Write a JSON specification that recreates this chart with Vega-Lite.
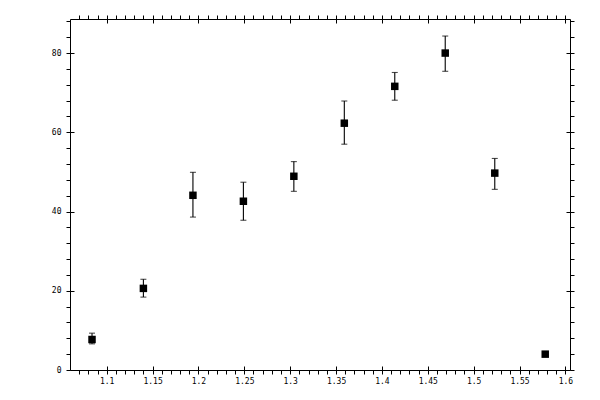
{
  "$schema": "https://vega.github.io/schema/vega-lite/v6.json",
  "width": 500,
  "height": 351,
  "autosize": "none",
  "padding": {"left": 70, "top": 19, "right": 30, "bottom": 30},
  "background": "white",
  "data": {
    "values": [
      {"x": 1.084, "y": 7.7, "lo": 6.6, "hi": 9.3},
      {"x": 1.140, "y": 20.6, "lo": 18.4, "hi": 22.9},
      {"x": 1.194, "y": 44.1, "lo": 38.6, "hi": 49.9},
      {"x": 1.249, "y": 42.6, "lo": 37.8, "hi": 47.4},
      {"x": 1.304, "y": 48.9, "lo": 45.1, "hi": 52.6},
      {"x": 1.359, "y": 62.3, "lo": 57.0, "hi": 67.9},
      {"x": 1.414, "y": 71.6, "lo": 68.1, "hi": 75.1},
      {"x": 1.469, "y": 80.0, "lo": 75.4, "hi": 84.3},
      {"x": 1.523, "y": 49.7, "lo": 45.6, "hi": 53.4},
      {"x": 1.578, "y": 4.0, "lo": 3.6, "hi": 4.4}
    ]
  },
  "config": {
    "view": {"stroke": null},
    "axis": {
      "grid": false,
      "title": null,
      "domainColor": "black",
      "domainWidth": 1,
      "tickColor": "black",
      "tickWidth": 1,
      "labelColor": "black",
      "labelFont": "DejaVu Sans Mono",
      "labelFontSize": 8,
      "labelFlush": false,
      "labelOverlap": false
    }
  },
  "resolve": {"axis": {"x": "independent", "y": "independent"}},
  "layer": [
    {
      "mark": {"type": "point", "opacity": 0},
      "encoding": {
        "x": {
          "field": "x", "type": "quantitative",
          "scale": {"domain": [1.06, 1.605], "nice": false, "zero": false},
          "axis": {
            "orient": "bottom", "tickSize": 4, "labelPadding": 3,
            "values": [1.07, 1.08, 1.09, 1.1, 1.11, 1.12, 1.13, 1.14, 1.15, 1.16, 1.17, 1.18, 1.19, 1.2, 1.21, 1.22, 1.23, 1.24, 1.25, 1.26, 1.27, 1.28, 1.29, 1.3, 1.31, 1.32, 1.33, 1.34, 1.35, 1.36, 1.37, 1.38, 1.39, 1.4, 1.41, 1.42, 1.43, 1.44, 1.45, 1.46, 1.47, 1.48, 1.49, 1.5, 1.51, 1.52, 1.53, 1.54, 1.55, 1.56, 1.57, 1.58, 1.59, 1.6],
            "labelExpr": "abs(datum.value * 20 - round(datum.value * 20)) < 0.001 ? format(datum.value, '.3~g') : ''"
          }
        },
        "y": {
          "field": "y", "type": "quantitative",
          "scale": {"domain": [0, 88.6], "nice": false},
          "axis": {
            "orient": "left", "tickSize": 4, "labelPadding": 5,
            "values": [0, 4, 8, 12, 16, 20, 24, 28, 32, 36, 40, 44, 48, 52, 56, 60, 64, 68, 72, 76, 80, 84, 88],
            "labelExpr": "datum.value % 20 == 0 ? datum.label : ''"
          }
        }
      }
    },
    {
      "mark": {"type": "point", "opacity": 0},
      "encoding": {
        "x": {
          "field": "x", "type": "quantitative",
          "scale": {"domain": [1.06, 1.605], "nice": false, "zero": false},
          "axis": {"orient": "bottom", "tickSize": -4, "domain": false, "labels": false, "values": [1.1, 1.15, 1.2, 1.25, 1.3, 1.35, 1.4, 1.45, 1.5, 1.55, 1.6]}
        },
        "y": {
          "field": "y", "type": "quantitative",
          "scale": {"domain": [0, 88.6], "nice": false},
          "axis": {"orient": "left", "tickSize": -4, "domain": false, "labels": false, "values": [0, 20, 40, 60, 80]}
        }
      }
    },
    {
      "mark": {"type": "point", "opacity": 0},
      "encoding": {
        "x": {
          "field": "x", "type": "quantitative",
          "scale": {"domain": [1.06, 1.605], "nice": false, "zero": false},
          "axis": {
            "orient": "top", "tickSize": 4, "labels": false,
            "values": [1.07, 1.08, 1.09, 1.1, 1.11, 1.12, 1.13, 1.14, 1.15, 1.16, 1.17, 1.18, 1.19, 1.2, 1.21, 1.22, 1.23, 1.24, 1.25, 1.26, 1.27, 1.28, 1.29, 1.3, 1.31, 1.32, 1.33, 1.34, 1.35, 1.36, 1.37, 1.38, 1.39, 1.4, 1.41, 1.42, 1.43, 1.44, 1.45, 1.46, 1.47, 1.48, 1.49, 1.5, 1.51, 1.52, 1.53, 1.54, 1.55, 1.56, 1.57, 1.58, 1.59, 1.6]
          }
        },
        "y": {
          "field": "y", "type": "quantitative",
          "scale": {"domain": [0, 88.6], "nice": false},
          "axis": {
            "orient": "right", "tickSize": 4, "labels": false,
            "values": [0, 4, 8, 12, 16, 20, 24, 28, 32, 36, 40, 44, 48, 52, 56, 60, 64, 68, 72, 76, 80, 84, 88]
          }
        }
      }
    },
    {
      "mark": {"type": "point", "opacity": 0},
      "encoding": {
        "x": {
          "field": "x", "type": "quantitative",
          "scale": {"domain": [1.06, 1.605], "nice": false, "zero": false},
          "axis": {"orient": "top", "tickSize": -4, "domain": false, "labels": false, "values": [1.1, 1.15, 1.2, 1.25, 1.3, 1.35, 1.4, 1.45, 1.5, 1.55, 1.6]}
        },
        "y": {
          "field": "y", "type": "quantitative",
          "scale": {"domain": [0, 88.6], "nice": false},
          "axis": {"orient": "right", "tickSize": -4, "domain": false, "labels": false, "values": [0, 20, 40, 60, 80]}
        }
      }
    },
    {
      "mark": {
        "type": "errorbar",
        "rule": {"color": "black", "strokeWidth": 1.1},
        "ticks": {"color": "black", "size": 6, "thickness": 1.1}
      },
      "encoding": {
        "x": {"field": "x", "type": "quantitative", "axis": null},
        "y": {"field": "lo", "type": "quantitative", "axis": null},
        "y2": {"field": "hi"}
      }
    },
    {
      "mark": {"type": "point", "shape": "square", "filled": true, "color": "black", "opacity": 1, "size": 56},
      "encoding": {
        "x": {"field": "x", "type": "quantitative", "axis": null},
        "y": {"field": "y", "type": "quantitative", "axis": null}
      }
    }
  ]
}
